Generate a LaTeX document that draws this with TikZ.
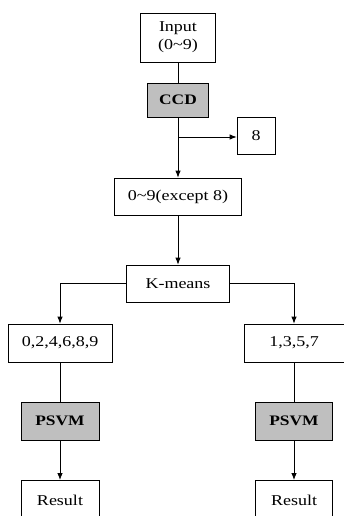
\documentclass[tikz,border=0pt]{standalone}
\usepackage{fontspec}
\setmainfont[FakeStretch=1.2]{Liberation Serif}
\usetikzlibrary{arrows.meta}
\begin{document}
\begin{tikzpicture}[x=1pt,y=-1pt,
  box/.style={draw,line width=0.8pt,fill=white,inner sep=0pt,align=center,font=\fontsize{15}{18}\selectfont},
  graybox/.style={box,fill=black!25,font=\fontsize{14.5}{17}\selectfont\bfseries},
  arr/.style={line width=0.8pt,-{Latex[length=7pt,width=5.5pt]}},
  ln/.style={line width=0.8pt}]
\clip (0,0) rectangle (344,516);
\node[box,minimum width=75pt,minimum height=49pt] (in) at (178,37.5) {Input\\(0\textasciitilde9)};
\node[graybox,minimum width=61pt,minimum height=34pt] (ccd) at (178,100) {CCD};
\node[box,minimum width=38pt,minimum height=37pt] (e8) at (256,135.5) {8};
\node[box,minimum width=127pt,minimum height=37pt] (ex) at (178,196.5) {0\textasciitilde9(except 8)};
\node[box,minimum width=103pt,minimum height=37pt] (km) at (178,283.5) {K-means};
\node[box,minimum width=104pt,minimum height=38pt] (lb) at (60,343) {0,2,4,6,8,9};
\node[box,minimum width=100pt,minimum height=38pt] (rb) at (294,343) {1,3,5,7};
\node[graybox,minimum width=78pt,minimum height=38pt] (lp) at (60,421) {PSVM};
\node[graybox,minimum width=77pt,minimum height=38pt] (rp) at (294,421) {PSVM};
\node[box,minimum width=78pt,minimum height=44pt,anchor=north] (lr) at (60,480) {\raisebox{4pt}{Result}};
\node[box,minimum width=77pt,minimum height=44pt,anchor=north] (rr) at (294,480) {\raisebox{4pt}{Result}};
\coordinate (br) at (178,137);
\draw[ln] (in.south) -- (ccd.north);
\draw[arr] (ccd.south) -- (ex.north);
\draw[arr] (br) -- (br -| e8.west);
\draw[arr] (ex.south) -- (km.north);
\draw[arr] (km.west) -| (lb.north);
\draw[arr] (km.east) -| (rb.north);
\draw[ln] (lb.south) -- (lp.north);
\draw[ln] (rb.south) -- (rp.north);
\draw[arr] (lp.south) -- (lr.north);
\draw[arr] (rp.south) -- (rr.north);
\end{tikzpicture}
\end{document}
